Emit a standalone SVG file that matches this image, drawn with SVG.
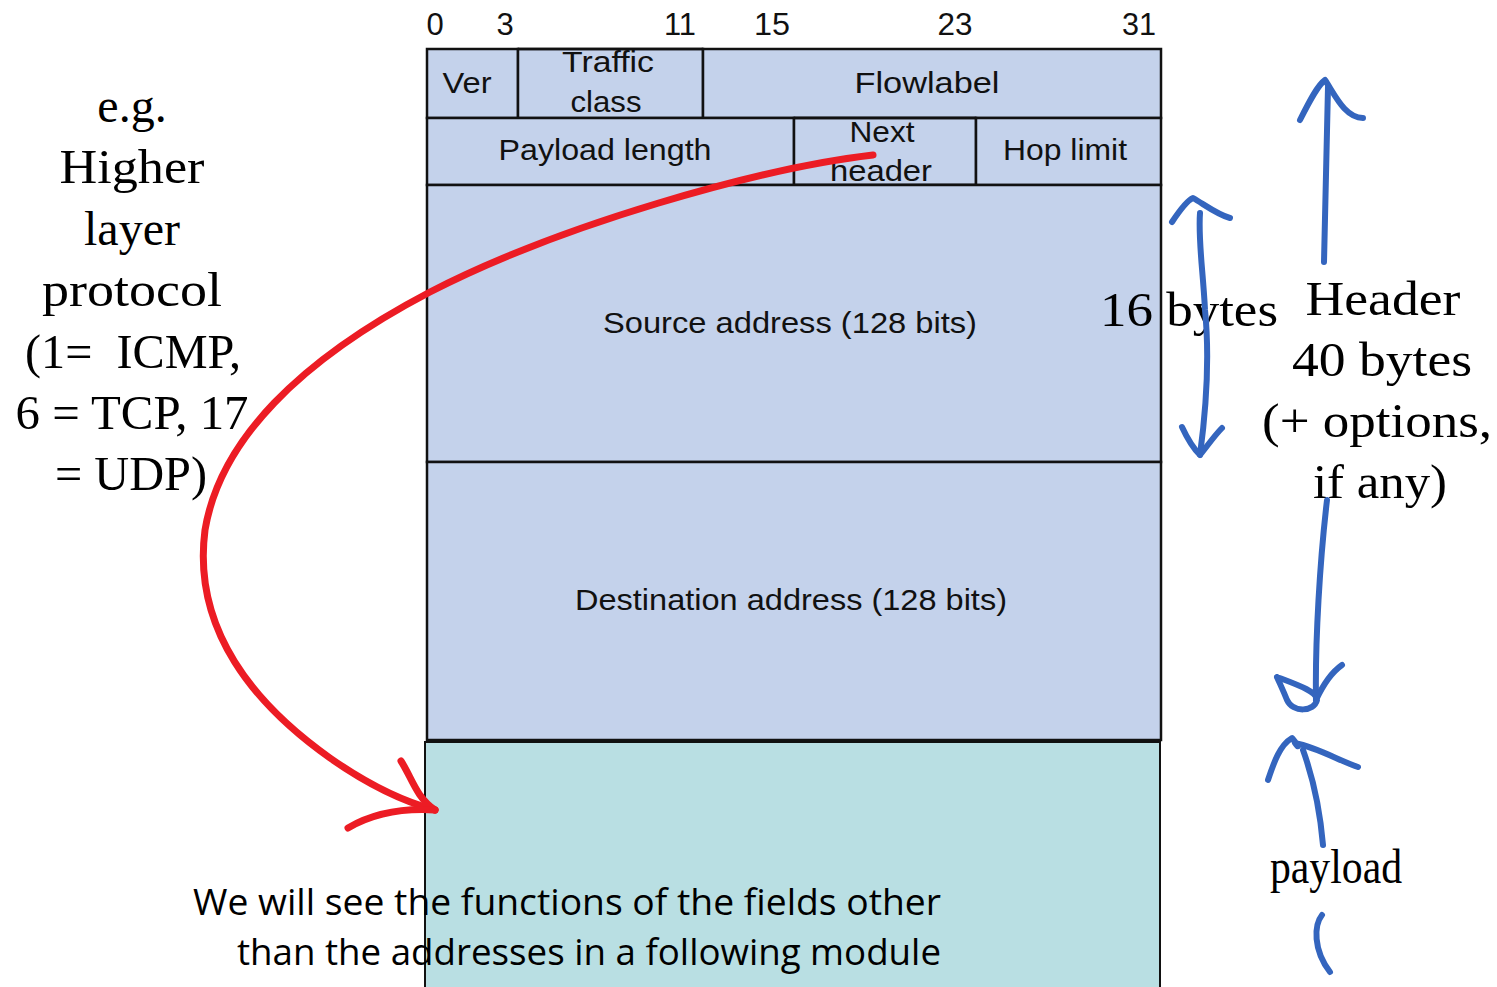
<svg xmlns="http://www.w3.org/2000/svg" width="1497" height="987" viewBox="0 0 1497 987">
<style>
.fld{fill:#c4d2eb;stroke:#111;stroke-width:2.5}
.pay{fill:#b9dfe3;stroke:#111;stroke-width:2}
.lbl{font-family:"Liberation Sans",Arial,sans-serif;font-size:29px;fill:#111;text-anchor:middle}
.bit{font-family:"Liberation Sans",Arial,sans-serif;font-size:31px;fill:#111;text-anchor:middle}
.ser{font-family:"Liberation Serif","Times New Roman",serif;font-size:48px;fill:#000;text-anchor:middle}
.cal{font-family:"Open Sans","Liberation Sans",sans-serif;font-size:36px;fill:#000}
.red{fill:none;stroke:#ec1c24;stroke-width:7;stroke-linecap:round;stroke-linejoin:round}
.blue{fill:none;stroke:#3465be;stroke-width:6;stroke-linecap:round;stroke-linejoin:round}
</style>
<defs><clipPath id="row1"><rect x="427" y="50" width="734" height="68"/></clipPath></defs>
<rect width="1497" height="987" fill="#fff"/>
<g id="bits">
<text class="bit" x="435" y="35">0</text>
<text class="bit" x="505" y="35">3</text>
<text class="bit" x="680" y="35" textLength="32" lengthAdjust="spacingAndGlyphs">11</text>
<text class="bit" x="772" y="35" textLength="36" lengthAdjust="spacingAndGlyphs">15</text>
<text class="bit" x="955" y="35" textLength="35" lengthAdjust="spacingAndGlyphs">23</text>
<text class="bit" x="1139" y="35" textLength="34" lengthAdjust="spacingAndGlyphs">31</text>
</g>
<g id="payload-box"><rect class="pay" x="425" y="742" width="735" height="250"/></g>
<g id="ver"><rect class="fld" x="427" y="49" width="91" height="69"/><text class="lbl" x="467" y="93" textLength="49" lengthAdjust="spacingAndGlyphs">Ver</text></g>
<g id="traffic-class"><rect class="fld" x="518" y="49" width="185" height="69"/><text class="lbl" x="608" y="72" textLength="92" lengthAdjust="spacingAndGlyphs" clip-path="url(#row1)">Traffic</text><text class="lbl" x="606" y="112" textLength="71" lengthAdjust="spacingAndGlyphs">class</text><line x1="518" y1="49" x2="703" y2="49" stroke="#111" stroke-width="2.5"/></g>
<g id="flow-label"><rect class="fld" x="703" y="49" width="458" height="69"/><text class="lbl" x="927" y="93" textLength="145" lengthAdjust="spacingAndGlyphs">Flowlabel</text></g>
<g id="payload-length"><rect class="fld" x="427" y="118" width="367" height="67"/><text class="lbl" x="605" y="160" textLength="213" lengthAdjust="spacingAndGlyphs">Payload length</text></g>
<g id="next-header"><rect class="fld" x="794" y="118" width="182" height="67"/><text class="lbl" x="882" y="142" textLength="65" lengthAdjust="spacingAndGlyphs">Next</text><text class="lbl" x="881" y="181" textLength="102" lengthAdjust="spacingAndGlyphs">header</text><line x1="794" y1="118" x2="976" y2="118" stroke="#111" stroke-width="2.5"/><line x1="794" y1="185" x2="976" y2="185" stroke="#111" stroke-width="2.5"/></g>
<g id="hop-limit"><rect class="fld" x="976" y="118" width="185" height="67"/><text class="lbl" x="1065" y="160" textLength="124" lengthAdjust="spacingAndGlyphs">Hop limit</text></g>
<g id="source-address"><rect class="fld" x="427" y="185" width="734" height="277"/><text class="lbl" x="790" y="333" textLength="374" lengthAdjust="spacingAndGlyphs">Source address (128 bits)</text></g>
<g id="destination-address"><rect class="fld" x="427" y="462" width="734" height="278"/><text class="lbl" x="791" y="610" textLength="432" lengthAdjust="spacingAndGlyphs">Destination address (128 bits)</text></g>
<g id="left-note">
<text class="ser" x="132" y="122">e.g.</text>
<text class="ser" x="132" y="183" textLength="145" lengthAdjust="spacingAndGlyphs">Higher</text>
<text class="ser" x="132" y="245">layer</text>
<text class="ser" x="132" y="306" textLength="180" lengthAdjust="spacingAndGlyphs">protocol</text>
<text class="ser" x="133" y="368" textLength="216" lengthAdjust="spacingAndGlyphs" xml:space="preserve">(1=  ICMP,</text>
<text class="ser" x="132" y="429" textLength="233" lengthAdjust="spacingAndGlyphs">6 = TCP, 17</text>
<text class="ser" x="131" y="490" textLength="152" lengthAdjust="spacingAndGlyphs">= UDP)</text>
</g>
<g id="right-notes">
<text class="ser" x="1189" y="326" textLength="178" lengthAdjust="spacingAndGlyphs">16 bytes</text>
<text class="ser" x="1383" y="315" textLength="155" lengthAdjust="spacingAndGlyphs">Header</text>
<text class="ser" x="1382" y="376" textLength="180" lengthAdjust="spacingAndGlyphs">40 bytes</text>
<text class="ser" x="1377" y="437" textLength="230" lengthAdjust="spacingAndGlyphs">(+ options,</text>
<text class="ser" x="1380" y="498" textLength="134" lengthAdjust="spacingAndGlyphs">if any)</text>
<text class="ser" x="1336" y="883" font-size="40" textLength="132" lengthAdjust="spacingAndGlyphs">payload</text>
</g>
<g id="bottom-note">
<text class="cal" x="193" y="915" textLength="748" lengthAdjust="spacingAndGlyphs">We will see the functions of the fields other</text>
<text class="cal" x="237" y="965" textLength="704" lengthAdjust="spacingAndGlyphs">than the addresses in a following module</text>
</g>
<g id="connectors">
<path class="red" d="M873 155 C760 168 560 225 430 292 C300 360 220 440 205 530 C192 630 255 705 330 758 C370 786 405 802 435 810"/>
<path class="red" d="M401 761 C412 778 416 797 435 810"/>
<path class="red" d="M348 828 C372 814 402 808 435 810"/>
<path class="blue" d="M1324 262 C1325 200 1327 140 1328 87"/>
<path class="blue" d="M1300 120 C1310 100 1318 85 1325 80 C1335 95 1345 118 1363 118"/>
<path class="blue" d="M1172 222 C1180 210 1188 200 1193 198 C1205 205 1218 215 1230 218"/>
<path class="blue" d="M1200 213 C1198 240 1203 270 1205 310 C1210 360 1206 410 1200 455"/>
<path class="blue" d="M1182 427 C1188 440 1195 450 1200 455 C1208 445 1215 435 1222 428"/>
<path class="blue" d="M1327 500 C1320 560 1315 640 1316 700"/>
<path class="blue" d="M1277 677 C1298 685 1318 692 1317 700 C1314 712 1293 713 1287 700 C1283 690 1280 684 1277 677 M1316 700 C1323 685 1332 672 1342 665"/>
<path class="blue" d="M1323 845 C1320 810 1312 775 1303 750"/>
<path class="blue" d="M1268 780 C1274 762 1280 745 1292 738 C1298 745 1300 750 1295 743 C1318 748 1338 760 1358 767"/>
<path class="blue" d="M1322 915 C1314 925 1313 950 1330 972"/>
</g>
</svg>
